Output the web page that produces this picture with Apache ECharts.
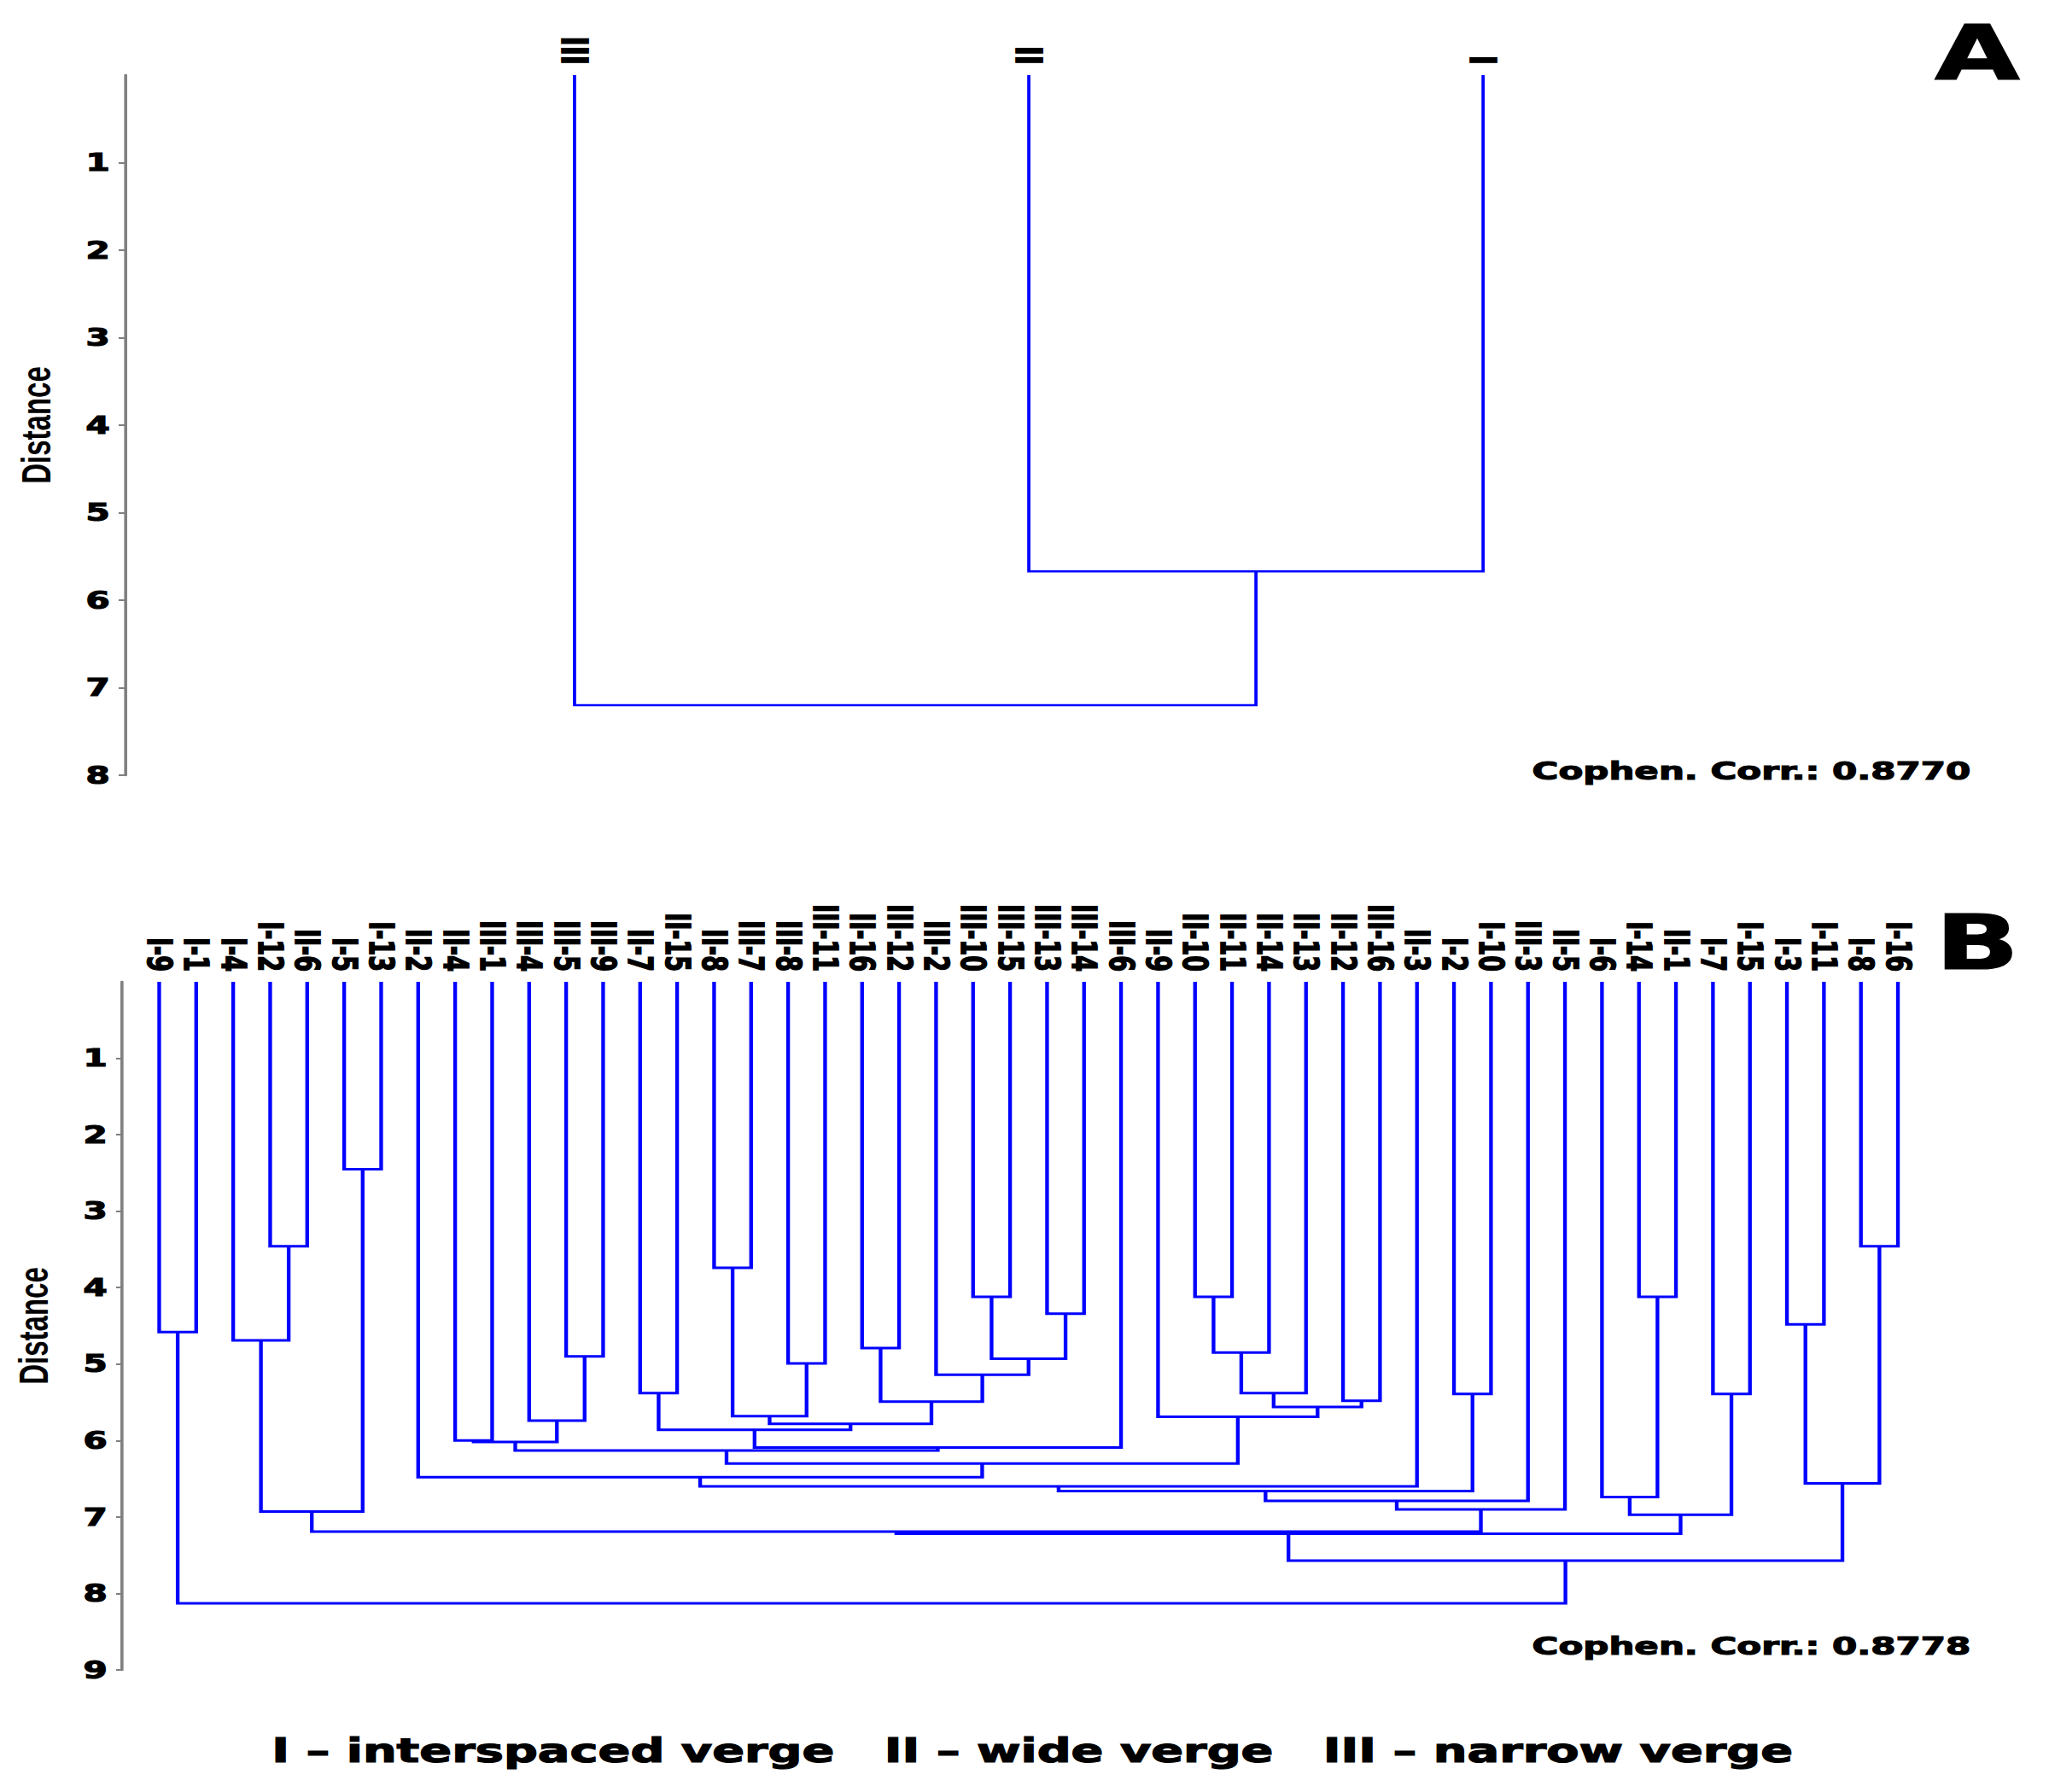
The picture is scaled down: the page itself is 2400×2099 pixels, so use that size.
<!DOCTYPE html>
<html>
<head>
<meta charset="utf-8">
<title>Cluster dendrograms</title>
<script src="https://cdn.jsdelivr.net/npm/echarts@6/dist/echarts.min.js"></script>
<style>
  html, body { margin: 0; padding: 0; background: #fff; overflow: hidden; }
  /* the source figure is stretched sideways, so the whole chart is too */
  #chart { width: 1655px; height: 2099px; transform: scaleX(1.4502); transform-origin: 0 0; }
</style>
</head>
<body>
<div id="chart"></div>
<script>
// panel A: the three verge groups
const leavesA = ['III', 'II', 'I']
// [left, right, distance]; an id >= leaves.length points at an earlier merge
const mergesA = [
  [1, 2, 5.67],
  [0, 3, 7.20],
]
const ticksA = [1, 2, 3, 4, 5, 6, 7, 8]
const corrA = '0.8770'

// panel B: the 48 samples
const leavesB = [
  'I-9', 'I-1', 'I-4', 'I-12', 'II-6', 'I-5', 'I-13', 'II-2', 'II-4', 'III-1',
  'III-4', 'III-5', 'III-9', 'II-7', 'II-15', 'II-8', 'III-7', 'III-8', 'III-11', 'II-16',
  'III-12', 'III-2', 'III-10', 'III-15', 'III-13', 'III-14', 'III-6', 'II-9', 'II-10', 'II-11',
  'II-14', 'II-13', 'II-12', 'III-16', 'II-3', 'I-2', 'I-10', 'III-3', 'II-5', 'I-6',
  'I-14', 'II-1', 'I-7', 'I-15', 'I-3', 'I-11', 'I-8', 'I-16',
]
const mergesB = [
  [5, 6, 2.45], // 48
  [3, 4, 3.46], // 49
  [46, 47, 3.46], // 50
  [15, 16, 3.74], // 51
  [22, 23, 4.12], // 52
  [28, 29, 4.12], // 53
  [40, 41, 4.12], // 54
  [24, 25, 4.34], // 55
  [44, 45, 4.48], // 56
  [0, 1, 4.58], // 57
  [2, 49, 4.69], // 58
  [19, 20, 4.79], // 59
  [53, 30, 4.85], // 60
  [11, 12, 4.90], // 61
  [52, 55, 4.93], // 62
  [17, 18, 4.99], // 63
  [21, 62, 5.14], // 64
  [13, 14, 5.38], // 65
  [60, 31, 5.38], // 66
  [35, 36, 5.39], // 67
  [42, 43, 5.39], // 68
  [32, 33, 5.48], // 69
  [59, 64, 5.49], // 70
  [66, 69, 5.56], // 71
  [51, 63, 5.68], // 72
  [27, 71, 5.69], // 73
  [10, 61, 5.74], // 74
  [72, 70, 5.78], // 75
  [65, 75, 5.86], // 76
  [8, 9, 6.00], // 77
  [77, 74, 6.02], // 78
  [76, 26, 6.09], // 79
  [78, 79, 6.13], // 80
  [80, 73, 6.30], // 81
  [7, 81, 6.48], // 82
  [82, 34, 6.60], // 83
  [83, 67, 6.66], // 84
  [39, 54, 6.74], // 85
  [84, 37, 6.79], // 86
  [58, 48, 6.93], // 87
  [85, 68, 6.97], // 88
  [86, 38, 6.90], // 89
  [56, 50, 6.56], // 90
  [87, 89, 7.19], // 91
  [91, 88, 7.22], // 92
  [92, 90, 7.57], // 93
  [57, 93, 8.13], // 94 root
]
const ticksB = [1, 2, 3, 4, 5, 6, 7, 8, 9]
const corrB = '0.8778'

const footer = 'I \u2013 interspaced verge   II \u2013 wide verge   III \u2013 narrow verge'

const BLUE = '#0000ff'
const GREY = '#808080'
const HEAVY = 'DejaVu Sans'

// one U-shaped link per merge: [xLeft, hLeft, xRight, hRight, hMerge]
function toLinks(leaves, merges) {
  const nodes = leaves.map((_, i) => ({ x: i, h: 0 }))
  const links = []
  merges.forEach(([a, b, h]) => {
    const na = nodes[a]
    const nb = nodes[b]
    links.push([na.x, na.h, nb.x, nb.h, h])
    nodes.push({ x: (na.x + nb.x) / 2, h })
  })
  return links
}

function linkRenderer(width) {
  return (params, api) => {
    const p0 = api.coord([api.value(0), api.value(1)])
    const p1 = api.coord([api.value(0), api.value(4)])
    const p2 = api.coord([api.value(2), api.value(4)])
    const p3 = api.coord([api.value(2), api.value(3)])
    return {
      type: 'polyline',
      shape: { points: [p0, p1, p2, p3] },
      style: { stroke: BLUE, lineWidth: width, fill: null, lineJoin: 'miter' },
    }
  }
}

// the printed labels are heavier than DejaVu bold, a thin outline makes up for it
const heavyText = {
  color: '#000',
  fontFamily: HEAVY,
  fontWeight: 'bold',
  textBorderColor: '#000',
  textBorderWidth: 1.2,
}

function leafAxis(gridIndex, leaves, min, max, fontSize) {
  return {
    gridIndex,
    type: 'value',
    position: 'top',
    min,
    max,
    axisLine: { show: false, onZero: false },
    axisTick: { show: false },
    splitLine: { show: false },
    axisLabel: {
      ...heavyText,
      customValues: leaves.map((_, i) => i),
      formatter: v => leaves[v] ?? '',
      rotate: 90,
      margin: 12,
      fontSize,
    },
  }
}

function distanceAxis(gridIndex, ticks) {
  return {
    gridIndex,
    type: 'value',
    inverse: true,
    min: 0,
    max: ticks[ticks.length - 1],
    interval: 1,
    name: 'Distance',
    nameLocation: 'middle',
    nameRotate: 90,
    nameGap: 55,
    nameTextStyle: { color: '#000', fontFamily: 'Liberation Sans', fontWeight: 'bold', fontSize: 33 },
    axisLine: { show: true, onZero: false, lineStyle: { color: GREY, width: 2.5 } },
    axisTick: { show: true, length: 5, customValues: ticks, lineStyle: { color: GREY, width: 2 } },
    axisLabel: {
      ...heavyText,
      customValues: ticks,
      margin: 12,
      fontSize: 28,
    },
    splitLine: { show: false },
  }
}

function label(text, x, y, fontSize, align) {
  return {
    type: 'text',
    x,
    y,
    style: {
      text,
      fill: '#000',
      stroke: '#000',
      lineWidth: 1.2,
      fontFamily: HEAVY,
      fontWeight: 'bold',
      fontSize,
      align,
      textAlign: align,
      verticalAlign: 'middle',
      textVerticalAlign: 'middle',
    },
  }
}

const chart = echarts.init(document.getElementById('chart'), null, { renderer: 'svg' })

chart.setOption({
  animation: false,
  backgroundColor: '#fff',
  grid: [
    { left: 100.8, top: 88, width: 1464, height: 820 },
    { left: 98.7, top: 1150, width: 1464.1, height: 806 },
  ],
  xAxis: [
    leafAxis(0, leavesA, -0.99, 3, 30),
    leafAxis(1, leavesB, -1, 48, 27),
  ],
  yAxis: [
    distanceAxis(0, ticksA),
    distanceAxis(1, ticksB),
  ],
  series: [
    {
      type: 'custom',
      xAxisIndex: 0,
      yAxisIndex: 0,
      renderItem: linkRenderer(2.6),
      encode: { x: [0, 2], y: [1, 3, 4] },
      data: toLinks(leavesA, mergesA),
    },
    {
      type: 'custom',
      xAxisIndex: 1,
      yAxisIndex: 1,
      renderItem: linkRenderer(3),
      encode: { x: [0, 2], y: [1, 3, 4] },
      data: toLinks(leavesB, mergesB),
    },
  ],
  graphic: [
    label('A', 1597, 62, 89, 'center'),
    label('B', 1597, 1104, 89, 'center'),
    label(`Cophen. Corr.: ${corrA}`, 1591.7, 903, 29, 'right'),
    label(`Cophen. Corr.: ${corrB}`, 1591.7, 1928, 29, 'right'),
    label(footer, 833.8, 2050, 38.5, 'center'),
  ],
})
</script>
</body>
</html>
